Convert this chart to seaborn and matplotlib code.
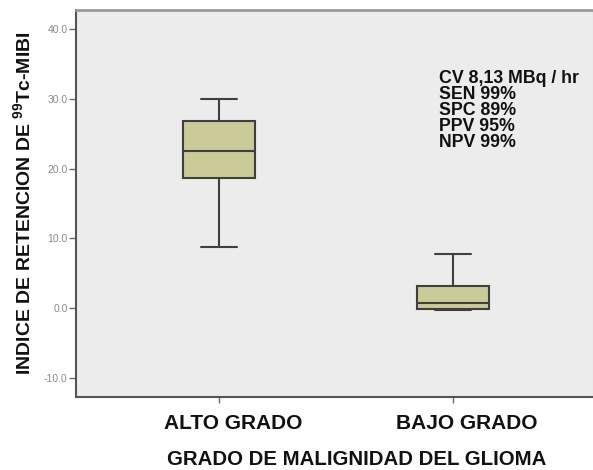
import matplotlib
matplotlib.use("Agg")
import matplotlib.pyplot as plt
import matplotlib.transforms as mtransforms
import seaborn as sns
import pandas as pd

# valores (min, Q1, mediana, Q3, max por grupo)
grupos = ["ALTO GRADO", "BAJO GRADO"]
alto_grado = [8.7, 18.6, 22.5, 26.9, 30.0]
bajo_grado = [-0.3, -0.1, 0.7, 3.2, 7.8]
y_ticks = [-10.0, 0.0, 10.0, 20.0, 30.0, 40.0]
stats_lines = ["CV 8,13 MBq / hr", "SEN 99%", "SPC 89%", "PPV 95%", "NPV 99%"]

df = pd.DataFrame({
    "grupo": [grupos[0]] * len(alto_grado) + [grupos[1]] * len(bajo_grado),
    "indice": alto_grado + bajo_grado,
})

sns.set_style("white")
plt.rcParams["font.family"] = ["Liberation Sans", "DejaVu Sans"]
plt.rcParams["mathtext.default"] = "regular"

fig = plt.figure(figsize=(5.93, 4.70), dpi=100)
ax = fig.add_axes([0.128, 0.155, 0.872, 0.824])
ax.set_facecolor("#ececec")

sns.boxplot(data=df, x="grupo", y="indice", ax=ax, width=0.31,
            color="#cbcb98", linecolor="#3f3f3f", linewidth=1.5,
            fliersize=0, saturation=1)

ax.set_xlim(-0.611, 1.598)
ax.set_ylim(-12.8, 42.8)
ax.set_yticks(y_ticks)
ax.set_yticklabels([f"{t:.1f}" for t in y_ticks], fontsize=7.5, color="#8a8a8a")
ax.tick_params(axis="y", length=5, width=1, color="#6a6a6a", pad=1, left=True)
ax.tick_params(axis="x", length=4, width=1, color="#6a6a6a", pad=8, bottom=True,
               labelsize=15, labelcolor="#111111")
# las etiquetas del eje x van algo desplazadas a la derecha de la marca
shift = mtransforms.ScaledTranslation(0.14, 0, fig.dpi_scale_trans)
for lbl in ax.get_xticklabels():
    lbl.set_fontweight("bold")
    lbl.set_transform(lbl.get_transform() + shift)

for side in ["left", "bottom"]:
    ax.spines[side].set_color("#555555")
    ax.spines[side].set_linewidth(1.5)
ax.spines["top"].set_color("#9a9a9a")
ax.spines["top"].set_linewidth(2)
ax.spines["right"].set_color("#cccccc")

ax.set_xlabel("GRADO DE MALIGNIDAD DEL GLIOMA", fontsize=14.7, fontweight="bold",
              color="#111111")
ax.xaxis.set_label_coords(0.543, -0.136)
ax.set_ylabel("INDICE DE RETENCION DE $^{99}$Tc-MIBI", fontsize=14,
              fontweight="bold", color="#111111", labelpad=7)

for i, line in enumerate(stats_lines):
    ax.text(0.94, 33.0 - i * 2.3, line, fontsize=12.8, fontweight="bold",
            color="#111111", va="center", ha="left")

fig.savefig("out.png", dpi=100)
